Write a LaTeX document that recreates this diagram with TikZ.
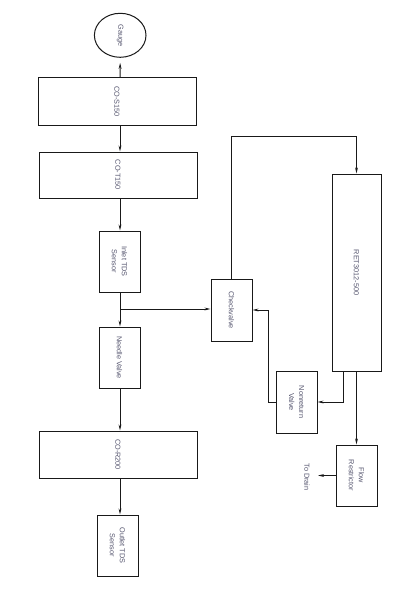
\documentclass[tikz,border=0pt]{standalone}
\usepackage{fontspec}
\setmainfont{Liberation Sans}
\usetikzlibrary{arrows.meta,shapes.geometric}
\definecolor{txt}{RGB}{85,85,110}
\tikzset{
  box/.style={draw=black!90, line width=1pt, rectangle, inner sep=0pt, anchor=center},
  lbl/.style={rotate=-90, align=center, inner sep=0pt, text=txt, font=\fontsize{7.3}{10}\selectfont},
  arr/.style={draw=black!90, line width=1pt, -{Stealth[length=6pt,width=2.8pt]}},
  ln/.style={draw=black!90, line width=1pt}
}
\begin{document}
\begin{tikzpicture}[x=1pt,y=-1pt]
\useasboundingbox (0,0) rectangle (414,599);
% boxes
\node[box, ellipse, minimum width=51.6pt, minimum height=44pt] (gauge) at (120.2,35.3) {};
\node[box, minimum width=158pt, minimum height=47pt] (S150) at (117,101.5) {};
\node[box, minimum width=158pt, minimum height=46pt] (T150) at (118,175) {};
\node[box, minimum width=41pt, minimum height=61pt] (Inlet) at (119.5,261.5) {};
\node[box, minimum width=41pt, minimum height=61pt] (Needle) at (119.5,357.5) {};
\node[box, minimum width=158pt, minimum height=47pt] (R200) at (118,454.5) {};
\node[box, minimum width=41pt, minimum height=61pt] (Outlet) at (117.5,545.5) {};
\node[box, minimum width=41pt, minimum height=62pt] (Check) at (231.5,310) {};
\node[box, minimum width=49pt, minimum height=197pt] (RET) at (356.5,272.5) {};
\node[box, minimum width=41pt, minimum height=62pt] (Nonret) at (296.5,402) {};
\node[box, minimum width=41pt, minimum height=61pt] (Flow) at (356.5,475.5) {};
% labels
\node[lbl] (tgauge) at (gauge) {Gauge};
\node[lbl] (tS150) at (S150) {CO-S150};
\node[lbl] (tT150) at (T150) {CO-T150};
\node[lbl] (tInlet) at (Inlet) {Inlet TDS\\Sensor};
\node[lbl] (tNeedle) at (Needle) {Needle Valve};
\node[lbl] (tR200) at (R200) {CO-R200};
\node[lbl] (tOutlet) at (Outlet) {Outlet TDS\\Sensor};
\node[lbl] (tCheck) at (Check) {Checkvalve};
\node[lbl] (tRET) at (RET) {RET3012-500};
\node[lbl] (tNonret) at (Nonret) {Nonreturn\\Valve};
\node[lbl] (tFlow) at (Flow) {Flow\\Restrictor};
\node[lbl] (tDrain) at (307,477) {To Drain};
% helper coordinates
\coordinate (col) at (120,0);
\coordinate (j1) at (120,309);
\coordinate (toprow) at (0,136);
\coordinate (r1) at (343,0);
\coordinate (k) at (268,310);
\coordinate (dr) at (318,0);
% connectors
\draw[arr, shorten >=5pt] (S150.north -| col) -- (gauge.south);
\draw[arr] (S150.south -| col) -- (T150.north -| col);
\draw[arr] (T150.south -| col) -- (Inlet.north -| col);
\draw[arr] (Inlet.south -| col) -- (Needle.north -| col);
\draw[arr] (j1) -- (j1 -| Check.west);
\draw[arr] (Needle.south -| col) -- (R200.north -| col);
\draw[arr] (R200.south -| col) -- (Outlet.north -| col);
\draw[arr] (Check.north) -- (Check.north |- toprow) -| (RET.north);
\draw[arr] (RET.south -| r1) |- (Nonret.east);
\draw[arr] (Nonret.west) -| (k) -- (Check.east);
\draw[arr] (RET.south) -- (Flow.north);
\draw[arr] (Flow.west) -- (Flow.west -| dr);
\end{tikzpicture}
\end{document}
